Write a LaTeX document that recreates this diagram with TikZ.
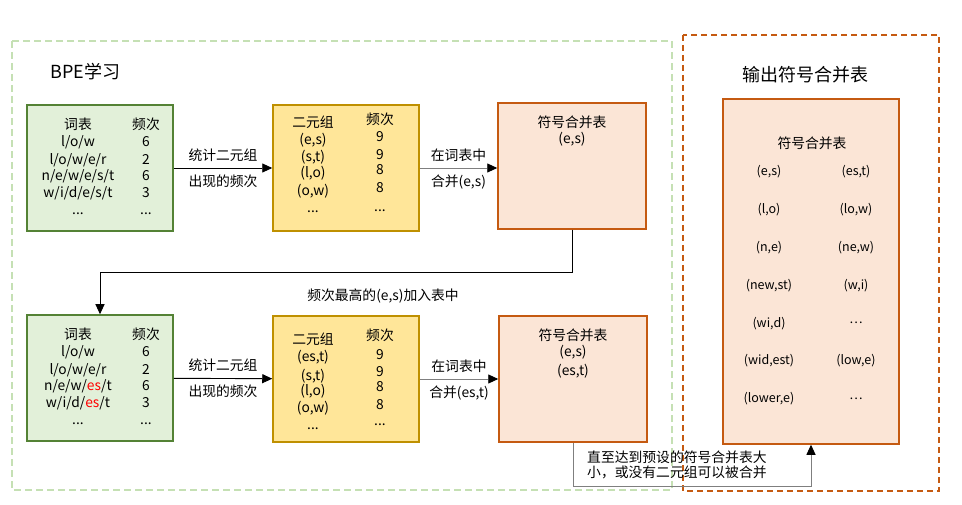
\documentclass[tikz,border=0pt]{standalone}
\usepackage{fontspec}
\setmainfont{Noto Sans CJK SC}
\usetikzlibrary{arrows.meta}
\definecolor{vocabfill}{HTML}{E2F0D9}
\definecolor{vocabline}{HTML}{548235}
\definecolor{pairfill}{HTML}{FFE699}
\definecolor{pairline}{HTML}{BF9000}
\definecolor{mergefill}{HTML}{FBE5D6}
\definecolor{mergeline}{HTML}{C55A11}
\definecolor{learnframe}{HTML}{C5E0B4}
\definecolor{linkgray}{HTML}{7F7F7F}
\definecolor{hitred}{HTML}{FF0000}
\newcommand\more{...}
\tikzset{
  box/.style={draw, line width=1.5pt, inner sep=0pt},
  vocab/.style={box, draw=vocabline, fill=vocabfill, minimum width=146pt, minimum height=126pt},
  pairs/.style={box, draw=pairline, fill=pairfill, minimum width=146pt, minimum height=126pt},
  merges/.style={box, draw=mergeline, fill=mergefill, minimum width=148pt, minimum height=126pt},
  txt/.style={font=\fontsize{13.8}{15}\selectfont, anchor=base, inner sep=0pt},
  small/.style={font=\fontsize{12.5}{14}\selectfont, inner sep=0pt},
  title/.style={font=\fontsize{18}{20}\selectfont, inner sep=0pt},
  arr/.style={-{Triangle[length=10pt,width=9pt,color=black]}, line width=0.9pt},
}
\begin{document}
\begin{tikzpicture}[x=1pt,y=-1pt]
  \useasboundingbox (0,0) rectangle (962,505);
  \draw[learnframe, line width=1.5pt, dash pattern=on 7pt off 4pt] (12,41) rectangle (672,490);
  \draw[mergeline, line width=1.8pt, dash pattern=on 6pt off 4pt] (683,35) rectangle (939,491);
  \node[title, anchor=west] (learn) at (50,72) {BPE学习};
  \node[title] (output) at (805,75) {输出符号合并表};

  \node[vocab] (v1) at (100,168) {};
  \node[pairs] (p1) at (346,168) {};
  \node[merges] (m1) at (572,166) {};
  \node[vocab] (v2) at (100,378) {};
  \node[pairs] (p2) at (346,379) {};
  \node[merges] (m2) at (573,379) {};
  \node[merges, minimum width=176pt, minimum height=345pt] (out) at (811,271.5) {};

  \foreach \w/\n/\dy in {词表/频次/25, {l/o/w}/6/42, {l/o/w/e/r}/2/60, {n/e/w/e/s/t}/6/76, {w/i/d/e/s/t}/3/93, \more/\more/110} {
    \node[txt] (v1w\dy) at ([shift={(-22,\dy)}]v1.north) {\w};
    \node[txt] (v1n\dy) at ([shift={(46,\dy)}]v1.north) {\n};
  }
  \foreach \w/\n/\dy in {词表/频次/25, {l/o/w}/6/42, {l/o/w/e/r}/2/60, {n/e/w/\textcolor{hitred}{es}/t}/6/76, {w/i/d/\textcolor{hitred}{es}/t}/3/93, \more/\more/110} {
    \node[txt] (v2w\dy) at ([shift={(-22,\dy)}]v2.north) {\w};
    \node[txt] (v2n\dy) at ([shift={(46,\dy)}]v2.north) {\n};
  }
  \foreach \a/\da/\b/\db [count=\i] in {二元组/23/频次/20, {(e,s)}/40/9/37, {(s,t)}/57/9/55, {(l,o)}/73/8/70, {(o,w)}/91/8/88, \more/108/\more/107} {
    \node[txt] (p1a\i) at ([shift={(-33,\da)}]p1.north) {\a};
    \node[txt] (p1b\i) at ([shift={(34,\db)}]p1.north) {\b};
  }
  \foreach \a/\da/\b/\db [count=\i] in {二元组/29/频次/25, {(es,t)}/46/9/44, {(s,t)}/65/9/61, {(l,o)}/80/8/76, {(o,w)}/97/8/94, \more/114/\more/110} {
    \node[txt] (p2a\i) at ([shift={(-33,\da)}]p2.north) {\a};
    \node[txt] (p2b\i) at ([shift={(34,\db)}]p2.north) {\b};
  }
  \node[txt] (m1t) at ([shift={(0,25)}]m1.north) {符号合并表};
  \node[txt] (m1a) at ([shift={(0,41)}]m1.north) {(e,s)};
  \node[txt] (m2t) at ([shift={(0,25)}]m2.north) {符号合并表};
  \node[txt] (m2a) at ([shift={(0,41)}]m2.north) {(e,s)};
  \node[txt] (m2b) at ([shift={(0,60)}]m2.north) {(es,t)};

  \node[small, font=\fontsize{13.8}{15}\selectfont] (outt) at (812,143) {符号合并表};
  \foreach \l/\r [count=\i] in {{(e,s)}/{(es,t)}, {(l,o)}/{(lo,w)}, {(n,e)}/{(ne,w)}, {(new,st)}/{(w,i)}, {(wi,d)}/…, {(wid,est)}/{(low,e)}, {(lower,e)}/…} {
    \node[small] (outl\i) at (769,{134.2+37.8*\i}) {\l};
    \node[small] (outr\i) at (856,{134.2+37.8*\i}) {\r};
  }

  \node[txt] (pick) at (383,301) {频次最高的(e,s)加入表中};
  \node[txt, anchor=west, align=left, font=\fontsize{13.8}{14.5}\selectfont] (until) at (587,465) {直至达到预设的符号合并表大\\小，或没有二元组可以被合并};
  \begin{scope}[arr]
    \draw (v1) -- node[txt, anchor=south, above=6pt] (c1) {统计二元组} node[txt, anchor=north, below=6pt] (f1) {出现的频次} (p1);
    \draw[linkgray] (p1) -- node[txt, black, anchor=south, above=6pt] (i1) {在词表中} node[txt, black, anchor=north, below=6pt] (j1) {合并(e,s)} (m1.west |- p1);
    \draw (v2) -- node[txt, anchor=south, above=6pt] (c2) {统计二元组} node[txt, anchor=north, below=6pt] (f2) {出现的频次} (p2);
    \draw[linkgray] (p2) -- node[txt, black, anchor=south, above=6pt] (i2) {在词表中} node[txt, black, anchor=north, below=6pt] (j2) {合并(es,t)} (m2);
    \draw (m1.south) -- ++(0,43) -| (v2.north);
    \draw[linkgray] (m2.south) -- ++(0,44) -| (out.south);
  \end{scope}
\end{tikzpicture}
\end{document}
